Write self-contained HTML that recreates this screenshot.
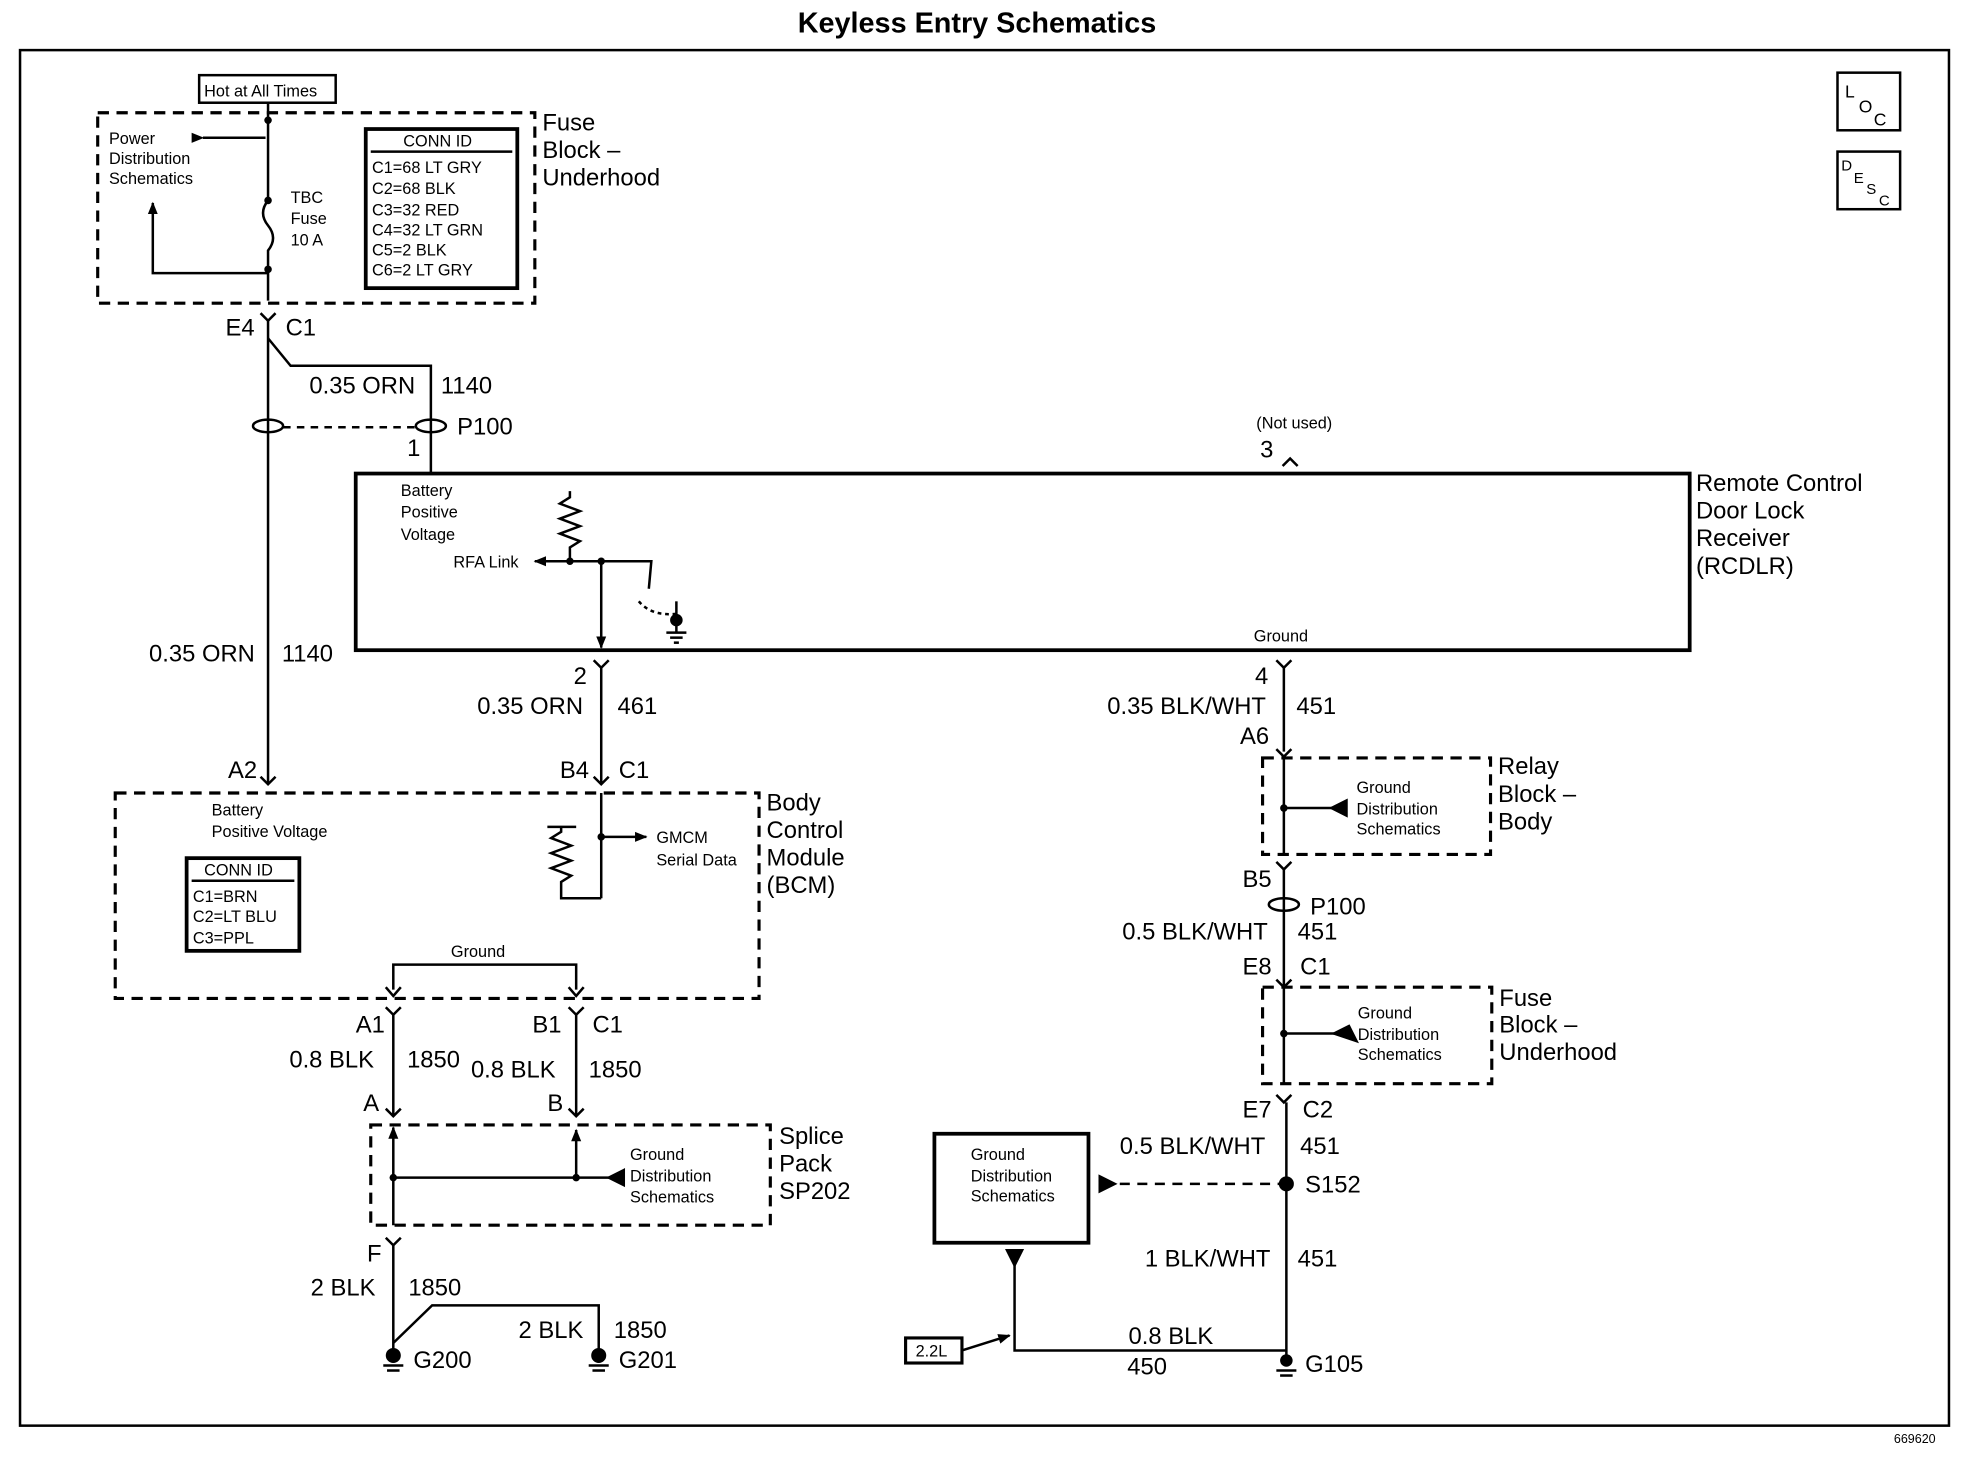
<!DOCTYPE html>
<html><head><meta charset="utf-8"><style>
html,body{margin:0;padding:0;background:#fff}
svg{display:block}
text{font-family:"Liberation Sans",Arial,sans-serif;fill:#000}
.b{font-size:19px}
.s{font-size:13px}
.t{font-size:23px;font-weight:bold}
</style></head><body>
<svg width="1964" height="1472" viewBox="0 0 1568 1175" preserveAspectRatio="none" xmlns="http://www.w3.org/2000/svg">
<defs>
<marker id="ar" markerWidth="10" markerHeight="10" refX="9" refY="5" orient="auto" markerUnits="userSpaceOnUse"><path d="M0,1 L10,5 L0,9 z" fill="#000"/></marker>
</defs>
<g stroke="#000" fill="none" stroke-width="2">
<rect x="16" y="40" width="1540" height="1098"/>
<rect x="1467" y="58" width="50" height="46"/>
<rect x="1467" y="121" width="50" height="46"/>
<rect x="159" y="60" width="109" height="22"/>
<rect x="78" y="90" width="349" height="152" stroke-dasharray="9,6" stroke-width="2.5"/>
<rect x="292" y="103" width="121" height="127" stroke-width="3"/>
<line x1="296" y1="121" x2="409" y2="121"/>
<line x1="214" y1="82" x2="214" y2="160"/>
<path d="M214,160 q-8,10 0,20 q8,10 0,20 L214,240"/>
<line x1="162" y1="110" x2="212" y2="110" marker-start="url(#ar)"/>
<path d="M214,218 L122,218 L122,162" marker-end="url(#ar)"/>
<path d="M208,250 L214,256 L220,250"/>
<path d="M214,256 L214,625"/>
<path d="M214,270 L232,292 L344,292 L344,378"/>
<ellipse cx="214" cy="340" rx="12" ry="5"/>
<ellipse cx="344" cy="340" rx="12" ry="5"/>
<line x1="226" y1="341" x2="332" y2="341" stroke-dasharray="6,5"/>
<rect x="284" y="378" width="1065" height="141" stroke-width="3"/>
<path d="M1024,372 L1030,366 L1036,372"/>
<path d="M455,392 l0,5 l-8,5 l16,6 l-16,6 l16,6 l-16,6 l16,6 l-8,5 L455,448"/>
<line x1="480" y1="448" x2="427" y2="448" marker-end="url(#ar)"/>
<path d="M480,448 L520,448 L518,470"/>
<path d="M510,480 q10,12 30,10" stroke-dasharray="3,3"/>
<line x1="540" y1="480" x2="540" y2="505"/>
<line x1="532" y1="505" x2="548" y2="505"/><line x1="535" y1="509" x2="545" y2="509"/><line x1="538" y1="513" x2="542" y2="513"/>
<line x1="480" y1="448" x2="480" y2="517" marker-end="url(#ar)"/>
<path d="M474,527 L480,533 L486,527"/><line x1="480" y1="533" x2="480" y2="625"/>
<path d="M1019,527 L1025,533 L1031,527"/><line x1="1025" y1="533" x2="1025" y2="600"/>
<path d="M1019,598 L1025,604 L1031,598"/>
<path d="M208,620 L214,626 L220,620"/>
<path d="M474,620 L480,626 L486,620"/>
<rect x="92" y="633" width="514" height="164" stroke-dasharray="9,6" stroke-width="2.5"/>
<rect x="149" y="685" width="90" height="74" stroke-width="3"/>
<line x1="153" y1="703" x2="235" y2="703"/>
<line x1="480" y1="633" x2="480" y2="717"/>
<line x1="480" y1="668" x2="516" y2="668" marker-end="url(#ar)"/>
<path d="M437,660 L460,660 M448,660 l0,4 l-8,5 l16,6 l-16,6 l16,6 l-16,6 l16,6 l-8,5 L448,717 L480,717"/>
<path d="M314,790 L314,770 L460,770 L460,790"/>
<path d="M308,788 L314,795 L320,788"/><path d="M454,788 L460,795 L466,788"/>
<path d="M308,804 L314,810 L320,804"/><path d="M454,804 L460,810 L466,804"/>
<line x1="314" y1="810" x2="314" y2="890"/><line x1="460" y1="810" x2="460" y2="890"/>
<path d="M308,885 L314,891 L320,885"/><path d="M454,885 L460,891 L466,885"/>
<rect x="296" y="898" width="319" height="80" stroke-dasharray="9,6" stroke-width="2.5"/>
<line x1="314" y1="904" x2="314" y2="978"/>
<line x1="460" y1="940" x2="460" y2="902" marker-end="url(#ar)"/>
<line x1="314" y1="902" x2="314" y2="900" marker-end="url(#ar)"/>
<line x1="314" y1="940" x2="498" y2="940"/>
<path d="M498,934 L486,940 L498,946 z" fill="#000"/>
<path d="M308,988 L314,994 L320,988"/>
<line x1="314" y1="994" x2="314" y2="1078"/>
<path d="M314,1072 L345,1042 L478,1042 L478,1078"/>
<line x1="1025" y1="604" x2="1025" y2="682"/>
<rect x="1008" y="605" width="182" height="77" stroke-dasharray="9,6" stroke-width="2.5"/>
<line x1="1025" y1="645" x2="1075" y2="645"/><path d="M1075,639 L1063,645 L1075,651 z" fill="#000"/>
<path d="M1019,688 L1025,694 L1031,688"/>
<line x1="1025" y1="694" x2="1025" y2="865"/>
<ellipse cx="1025" cy="722" rx="12" ry="5"/>
<path d="M1019,782 L1025,788 L1031,782"/>
<rect x="1008" y="788" width="183" height="77" stroke-dasharray="9,6" stroke-width="2.5"/>
<line x1="1025" y1="825" x2="1077" y2="825"/><path d="M1077,819 L1065,825 L1083,831 z" fill="#000"/>
<path d="M1019,874 L1025,880 L1031,874"/>
<line x1="1027" y1="880" x2="1027" y2="1082"/>
<line x1="880" y1="945" x2="1027" y2="945" stroke-dasharray="8,6"/>
<path d="M878,939 L890,945 L878,951 z" fill="#000"/>
<rect x="746" y="905" width="123" height="87" stroke-width="3"/>
<path d="M804,998 L810,1010 L816,998 z" fill="#000"/>
<path d="M810,1005 L810,1078 L1027,1078"/>
<rect x="723" y="1068" width="45" height="20" stroke-width="2.5"/>
<line x1="768" y1="1078" x2="806" y2="1066" marker-end="url(#ar)"/>
</g>
<g fill="#000">
<circle cx="214" cy="96" r="3"/><circle cx="214" cy="160" r="3"/><circle cx="214" cy="215" r="3"/>
<circle cx="455" cy="448" r="3"/><circle cx="480" cy="448" r="3"/><circle cx="540" cy="495" r="5"/>
<circle cx="480" cy="668" r="3"/><circle cx="314" cy="940" r="3"/><circle cx="460" cy="940" r="3"/>
<circle cx="1025" cy="645" r="3"/><circle cx="1025" cy="825" r="3"/><circle cx="1027" cy="945" r="6"/>
<circle cx="314" cy="1082" r="6"/><circle cx="478" cy="1082" r="6"/><circle cx="1027" cy="1086" r="5"/>
</g>
<g stroke="#000" stroke-width="2">
<line x1="306" y1="1090" x2="322" y2="1090"/><line x1="309" y1="1094" x2="319" y2="1094"/>
<line x1="470" y1="1090" x2="486" y2="1090"/><line x1="473" y1="1094" x2="483" y2="1094"/>
<line x1="1019" y1="1094" x2="1035" y2="1094"/><line x1="1022" y1="1098" x2="1032" y2="1098"/>
</g>
<text class="t" x="780" y="26" text-anchor="middle">Keyless Entry Schematics</text>
<text class="s" x="1512" y="1152" style="font-size:10px">669620</text>
<text x="1473" y="78" style="font-size:14px">L</text><text x="1484" y="90" style="font-size:14px">O</text><text x="1496" y="100" style="font-size:14px">C</text>
<text x="1470" y="136" style="font-size:12px">D</text><text x="1480" y="146" style="font-size:12px">E</text><text x="1490" y="155" style="font-size:12px">S</text><text x="1500" y="164" style="font-size:12px">C</text>
<text class="s" x="163" y="77">Hot at All Times</text>
<text class="s" x="87" y="115">Power</text><text class="s" x="87" y="131">Distribution</text><text class="s" x="87" y="147">Schematics</text>
<text class="s" x="232" y="162">TBC</text><text class="s" x="232" y="179">Fuse</text><text class="s" x="232" y="196">10 A</text>
<text class="s" x="322" y="117">CONN ID</text>
<text class="s" x="297" y="138">C1=68 LT GRY</text><text class="s" x="297" y="155">C2=68 BLK</text><text class="s" x="297" y="172">C3=32 RED</text><text class="s" x="297" y="188">C4=32 LT GRN</text><text class="s" x="297" y="204">C5=2 BLK</text><text class="s" x="297" y="220">C6=2 LT GRY</text>
<text class="b" x="433" y="104">Fuse</text><text class="b" x="433" y="126">Block –</text><text class="b" x="433" y="148">Underhood</text>
<text class="b" x="180" y="268">E4</text><text class="b" x="228" y="268">C1</text>
<text class="b" x="247" y="314">0.35 ORN</text><text class="b" x="352" y="314">1140</text>
<text class="b" x="365" y="347">P100</text><text class="b" x="325" y="364">1</text>
<text class="s" x="1003" y="342">(Not used)</text><text class="b" x="1006" y="365">3</text>
<text class="b" x="1354" y="392">Remote Control</text><text class="b" x="1354" y="414">Door Lock</text><text class="b" x="1354" y="436">Receiver</text><text class="b" x="1354" y="458">(RCDLR)</text>
<text class="s" x="320" y="396">Battery</text><text class="s" x="320" y="413">Positive</text><text class="s" x="320" y="431">Voltage</text>
<text class="s" x="362" y="453">RFA Link</text>
<text class="s" x="1001" y="512">Ground</text>
<text class="b" x="458" y="546">2</text><text class="b" x="1002" y="546">4</text>
<text class="b" x="119" y="528">0.35 ORN</text><text class="b" x="225" y="528">1140</text>
<text class="b" x="381" y="570">0.35 ORN</text><text class="b" x="493" y="570">461</text>
<text class="b" x="884" y="570">0.35 BLK/WHT</text><text class="b" x="1035" y="570">451</text>
<text class="b" x="990" y="594">A6</text>
<text class="b" x="182" y="621">A2</text><text class="b" x="447" y="621">B4</text><text class="b" x="494" y="621">C1</text>
<text class="b" x="612" y="647">Body</text><text class="b" x="612" y="669">Control</text><text class="b" x="612" y="691">Module</text><text class="b" x="612" y="713">(BCM)</text>
<text class="s" x="169" y="651">Battery</text><text class="s" x="169" y="668">Positive Voltage</text>
<text class="s" x="163" y="699">CONN ID</text>
<text class="s" x="154" y="720">C1=BRN</text><text class="s" x="154" y="736">C2=LT BLU</text><text class="s" x="154" y="753">C3=PPL</text>
<text class="s" x="524" y="673">GMCM</text><text class="s" x="524" y="691">Serial Data</text>
<text class="s" x="360" y="764">Ground</text>
<text class="b" x="284" y="824">A1</text><text class="b" x="425" y="824">B1</text><text class="b" x="473" y="824">C1</text>
<text class="b" x="231" y="852">0.8 BLK</text><text class="b" x="325" y="852">1850</text>
<text class="b" x="376" y="860">0.8 BLK</text><text class="b" x="470" y="860">1850</text>
<text class="b" x="290" y="887">A</text><text class="b" x="437" y="887">B</text>
<text class="s" x="503" y="926">Ground</text><text class="s" x="503" y="943">Distribution</text><text class="s" x="503" y="960">Schematics</text>
<text class="b" x="622" y="913">Splice</text><text class="b" x="622" y="935">Pack</text><text class="b" x="622" y="957">SP202</text>
<text class="b" x="293" y="1007">F</text>
<text class="b" x="248" y="1034">2 BLK</text><text class="b" x="326" y="1034">1850</text>
<text class="b" x="414" y="1068">2 BLK</text><text class="b" x="490" y="1068">1850</text>
<text class="b" x="330" y="1092">G200</text><text class="b" x="494" y="1092">G201</text>
<text class="s" x="1083" y="633">Ground</text><text class="s" x="1083" y="650">Distribution</text><text class="s" x="1083" y="666">Schematics</text>
<text class="b" x="1196" y="618">Relay</text><text class="b" x="1196" y="640">Block –</text><text class="b" x="1196" y="662">Body</text>
<text class="b" x="992" y="708">B5</text><text class="b" x="1046" y="730">P100</text>
<text class="b" x="896" y="750">0.5 BLK/WHT</text><text class="b" x="1036" y="750">451</text>
<text class="b" x="992" y="778">E8</text><text class="b" x="1038" y="778">C1</text>
<text class="s" x="1084" y="813">Ground</text><text class="s" x="1084" y="830">Distribution</text><text class="s" x="1084" y="846">Schematics</text>
<text class="b" x="1197" y="803">Fuse</text><text class="b" x="1197" y="824">Block –</text><text class="b" x="1197" y="846">Underhood</text>
<text class="b" x="992" y="892">E7</text><text class="b" x="1040" y="892">C2</text>
<text class="b" x="894" y="921">0.5 BLK/WHT</text><text class="b" x="1038" y="921">451</text>
<text class="b" x="1042" y="952">S152</text>
<text class="s" x="775" y="926">Ground</text><text class="s" x="775" y="943">Distribution</text><text class="s" x="775" y="959">Schematics</text>
<text class="b" x="914" y="1011">1 BLK/WHT</text><text class="b" x="1036" y="1011">451</text>
<text class="b" x="901" y="1073">0.8 BLK</text><text class="b" x="900" y="1097">450</text>
<text class="b" x="1042" y="1095">G105</text>
<text class="s" x="731" y="1083">2.2L</text>
</svg>
</body></html>
